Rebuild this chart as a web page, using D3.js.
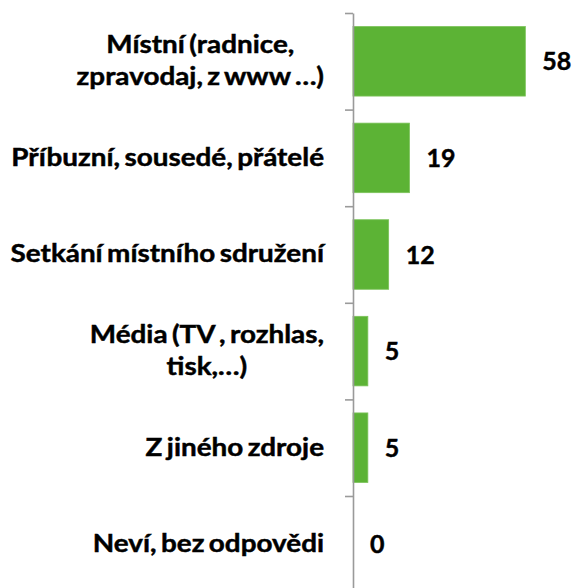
<!DOCTYPE html>
<html>
<head>
<meta charset="utf-8">
<script src="https://cdn.jsdelivr.net/npm/d3@7/dist/d3.min.js"></script>
<style>
  html, body { margin: 0; padding: 0; background: #fff; }
  svg { display: block; }
  text { font-family: Lato, "Open Sans", sans-serif; font-weight: 700; fill: #000;
         stroke: #000; stroke-width: 0.45px; }
</style>
</head>
<body>
<svg id="chart" width="574" height="588"></svg>
<script>
// Source of information (share of respondents, %)
const categories = [
  ["Místní (radnice,", "zpravodaj, z www …)"],
  ["Příbuzní, sousedé, přátelé"],
  ["Setkání místního sdružení"],
  ["Média (TV , rozhlas,", "tisk,…)"],
  ["Z jiného zdroje"],
  ["Neví, bez odpovědi"]
];
const values = [58, 19, 12, 5, 5, 0];

const svg = d3.select("#chart");
const axisX = 353;
const plotTop = 13, plotBottom = 592.6;

const keys = categories.map((c, i) => i);

const x = d3.scaleLinear().domain([0, 70]).range([axisX, axisX + 208]);
const y = d3.scaleBand().domain(keys).range([plotTop, plotBottom])
  .paddingInner(0.28).paddingOuter(0.14);

// Bars
svg.append("g").selectAll("rect").data(values).join("rect")
  .attr("x", x(0))
  .attr("y", (d, i) => y(i))
  .attr("width", d => x(d) - x(0))
  .attr("height", y.bandwidth())
  .attr("fill", "#5CB335")
  .attr("stroke", d => d > 0 ? "#7CC35A" : "none")
  .attr("stroke-width", 0.8);

// Category axis with ticks on band boundaries
const edge = d3.scaleLinear().domain([0, keys.length]).range([plotTop, plotBottom]);
const axis = svg.append("g")
  .attr("transform", `translate(${axisX},0)`)
  .call(d3.axisLeft(edge).ticks(keys.length).tickSize(8).tickSizeOuter(0).tickFormat(""));
axis.select(".domain").attr("stroke", "#9A9A9A").attr("stroke-width", 1.6);
axis.selectAll(".tick line").attr("stroke", "#9A9A9A").attr("stroke-width", 1.6);

// Category labels: lines centred on each other, block right-aligned,
// widened a little with tight word spacing
const labelRight = 324;
const stretch = 1.16;
const lineGap = 32;
const labels = svg.append("g")
  .style("font-size", "24px")
  .style("word-spacing", "-2px")
  .attr("transform", `translate(${labelRight},0) scale(${stretch},1)`);
categories.forEach((lines, i) => {
  const cy = y(i) + y.bandwidth() / 2;
  const g = labels.append("g");
  const texts = lines.map((ln, k) => g.append("text")
    .attr("y", cy + 8 + (k - (lines.length - 1) / 2) * lineGap)
    .text(ln));
  const w = d3.max(texts, t => t.node().getComputedTextLength());
  texts.forEach(t => t.attr("x", -w / 2).attr("text-anchor", "middle"));
});

// Value labels
svg.append("g").style("font-size", "25px").selectAll("text").data(values).join("text")
  .attr("x", d => x(d) + 17)
  .attr("y", (d, i) => y(i) + y.bandwidth() / 2 + 9)
  .text(d => d);
</script>
</body>
</html>
